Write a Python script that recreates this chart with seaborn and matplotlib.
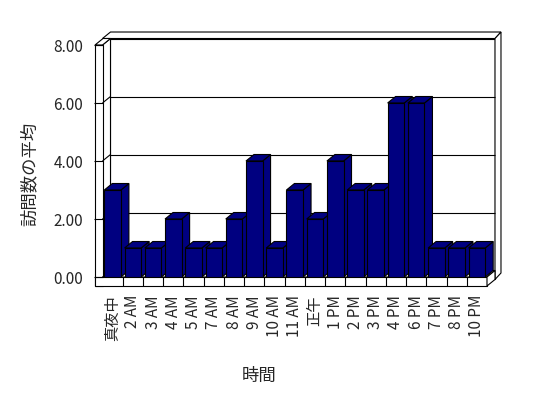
import matplotlib
matplotlib.use("Agg")
import matplotlib.pyplot as plt
import pandas as pd
import seaborn as sns
from matplotlib.patches import Polygon

hours = ["真夜中", "2 AM", "3 AM", "4 AM", "5 AM", "7 AM", "8 AM", "9 AM", "10 AM",
         "11 AM", "正午", "1 PM", "2 PM", "3 PM", "4 PM", "6 PM", "7 PM", "8 PM", "10 PM"]
avg_visits = [3, 1, 1, 2, 1, 1, 2, 4, 1, 3, 2, 4, 3, 3, 6, 6, 1, 1, 1]
y_ticks = [0, 2, 4, 6, 8]
y_tick_labels = ["0.00", "2.00", "4.00", "6.00", "8.00"]

BAR_COLOR = "#000080"
LW = 0.8
# pseudo-3D depth offsets, in data units
DX, DY = 0.395, 0.224      # front plane -> back wall
BX, BY = 0.296, 0.224      # back wall thickness
TX, TY = 0.37, 0.31        # left wall / floor thickness

sns.set_style("white")
plt.rcParams["font.family"] = ["Noto Sans CJK JP", "DejaVu Sans"]

df = pd.DataFrame({"hour": hours, "visits": avg_visits})

fig = plt.figure(figsize=(5.48, 3.98), dpi=100)
ax = fig.add_axes([102.5 / 548, 121 / 398, 384.5 / 548, 232 / 398])

sns.barplot(data=df, x="hour", y="visits", color=BAR_COLOR, saturation=1,
            edgecolor="black", linewidth=LW, width=0.82, ax=ax)

n = len(hours)
L, R = -0.5, n - 0.5
top = y_ticks[-1]
ax.set_xlim(L, R)
ax.set_ylim(0, top)


def face(pts, z, fc="white"):
    ax.add_patch(Polygon(pts, closed=True, facecolor=fc, edgecolor="black",
                         linewidth=LW, zorder=z, clip_on=False))


def seg(xs, ys, z):
    ax.plot(xs, ys, color="black", lw=LW, zorder=z, clip_on=False,
            solid_capstyle="butt")


# back wall slab
face([(L + DX, DY - TY), (R + DX, DY - TY), (R + DX, top + DY), (L + DX, top + DY)], 1.0)
face([(L, top + DY), (R + DX, top + DY), (R + DX + BX, top + DY + BY),
      (L + DX, top + DY + BY)], 1.0)
face([(R + DX, DY - TY), (R + DX + BX, DY - TY + BY), (R + DX + BX, top + DY + BY),
      (R + DX, top + DY)], 1.0)

# left wall: inner face, top and front face
face([(L, 0), (L + DX, DY), (L + DX, top + DY), (L, top)], 1.1)
face([(L - TX, top), (L, top), (L + DX, top + DY), (L - TX + DX, top + DY)], 1.1)
face([(L - TX, -TY), (L, -TY), (L, top), (L - TX, top)], 1.2)

# gridlines on back wall and left wall
for v in y_ticks[1:-1]:
    seg([L + DX, R + DX], [v + DY, v + DY], 1.3)
    seg([L, L + DX], [v, v + DY], 1.3)

# floor: top, front and right faces
face([(L, 0), (R, 0), (R + DX, DY), (L + DX, DY)], 1.4)
face([(L - TX, -TY), (R, -TY), (R, 0), (L - TX, 0)], 1.5)
face([(R, -TY), (R + DX, DY - TY), (R + DX, DY), (R, 0)], 1.5)
for k in range(1, n):
    seg([k - 0.5, k - 0.5], [-TY, 0], 1.6)

# 3D faces of the bars, drawn left to right so later bars overlap earlier ones
bars = sorted(ax.patches[:n], key=lambda p: p.get_x())
for i, p in enumerate(bars):
    x0, w, h = p.get_x(), p.get_width(), p.get_height()
    z = 3 + 2 * i
    face([(x0 + w, 0), (x0 + w + DX, DY), (x0 + w + DX, h + DY), (x0 + w, h)], z, BAR_COLOR)
    face([(x0, h), (x0 + w, h), (x0 + w + DX, h + DY), (x0 + DX, h + DY)], z, BAR_COLOR)
    p.set_zorder(z + 1)

for s in ax.spines.values():
    s.set_visible(False)
ax.patch.set_visible(False)
ax.set_axisbelow(False)

ax.set_yticks(y_ticks, y_tick_labels)
ax.tick_params(axis="y", length=6.8, width=LW, color="black", pad=7, labelsize=11, left=True)
ax.set_xticks(range(n), hours, rotation=90)
ax.tick_params(axis="x", length=0, pad=13, labelsize=11)

ax.set_xlabel("時間", fontsize=12.5)
ax.set_ylabel("訪問数の平均", fontsize=12.5)
ax.xaxis.set_label_coords(0.407, -0.427)
ax.yaxis.set_label_coords(-0.1886, 0.446)
ax.xaxis.label.set_va("center")
ax.yaxis.label.set_va("center")

fig.savefig("out.png", dpi=100)
